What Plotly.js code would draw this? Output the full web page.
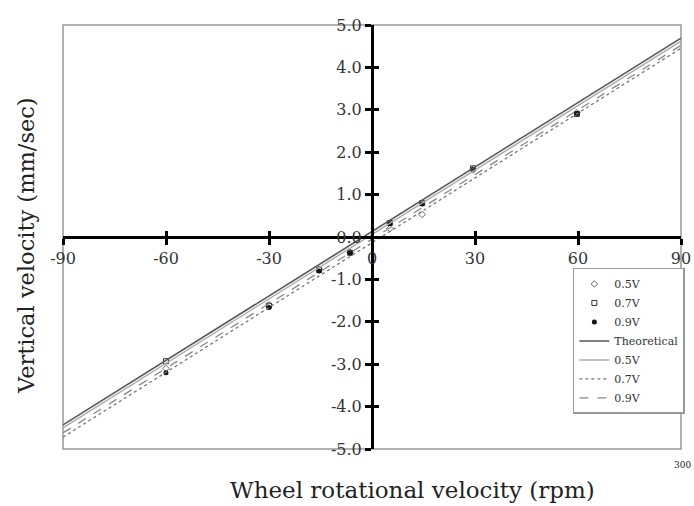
<!DOCTYPE html>
<html>
<head>
<meta charset="utf-8">
<script src="https://cdn.plot.ly/plotly-3.0.1.min.js"></script>
<style>html,body{margin:0;padding:0;background:#fff}#chart{width:694px;height:506px}</style>
</head>
<body>
<div id="chart"></div>
<script>
// Measured points (rpm vs mm/sec)
const rpm = [-60, -30, -15.4, -6.4, 5.2, 14.6, 29.4, 59.7];
const v05 = [-3.10, -1.60, -0.76, -0.36, 0.20, 0.53, 1.58, 2.93];
const v07 = [-2.93, -1.62, -0.78, -0.37, 0.33, 0.80, 1.62, 2.90];
const v09 = [-3.20, -1.66, -0.80, -0.38, 0.32, 0.78, 1.60, 2.91];

// Fitted / theoretical lines (end points at -90 and 90 rpm)
const lineX = [-90, 90];
const theoLine = [-4.43, 4.69];
const fit05 = [-4.50, 4.62];
const fit07 = [-4.72, 4.45];
const fit09 = [-4.62, 4.52];

const xTicks = [-90, -60, -30, 0, 30, 60, 90];
const xTickText = ['-90', '-60', '-30', '0', '30', '60', '90'];
const yTicks = [-5, -4, -3, -2, -1, 0, 1, 2, 3, 4, 5];
const yTickText = ['-5.0', '-4.0', '-3.0', '-2.0', '-1.0', '0.0', '1.0', '2.0', '3.0', '4.0', '5.0'];

const serif = 'DejaVu Serif, Liberation Serif, serif';
const mk = '#333';

const traces = [
  {x: rpm, y: v05, name: '0.5V', mode: 'markers', type: 'scatter',
   marker: {symbol: 'diamond-open', size: 5, color: '#666', line: {width: 1, color: '#666'}}},
  {x: rpm, y: v07, name: '0.7V', mode: 'markers', type: 'scatter',
   marker: {symbol: 'square-open', size: 5, color: mk, line: {width: 1, color: mk}}},
  {x: rpm, y: v09, name: '0.9V', mode: 'markers', type: 'scatter',
   marker: {symbol: 'circle', size: 5, color: '#111'}},
  {x: lineX, y: theoLine, name: 'Theoretical', mode: 'lines', type: 'scatter',
   line: {color: '#555', width: 1.6}},
  {x: lineX, y: fit05, name: '0.5V', mode: 'lines', type: 'scatter',
   line: {color: '#aaa', width: 1.4}},
  {x: lineX, y: fit07, name: '0.7V', mode: 'lines', type: 'scatter',
   line: {color: '#777', width: 1.3, dash: 'dot'}},
  {x: lineX, y: fit09, name: '0.9V', mode: 'lines', type: 'scatter',
   line: {color: '#888', width: 1.3, dash: 'dash'}},
  {x: [], y: [], xaxis: 'x2', yaxis: 'y2', showlegend: false, hoverinfo: 'skip', mode: 'markers', type: 'scatter'}
];

const axCommon = {showgrid: false, zeroline: false, fixedrange: true};

const layout = {
  width: 694, height: 506,
  margin: {l: 63, r: 13, t: 25, b: 57, autoexpand: false},
  paper_bgcolor: '#fff', plot_bgcolor: '#fff',
  font: {family: serif, color: '#222'},
  showlegend: true,
  legend: {x: 0.825, y: 0.427, xanchor: 'left', yanchor: 'top',
           bgcolor: '#fff', bordercolor: '#999', borderwidth: 1.5,
           font: {family: serif, size: 11, color: '#333'}, tracegroupgap: 0},
  xaxis: Object.assign({}, axCommon, {
    range: [-90, 90], anchor: 'free', position: 0.5,
    showline: true, linecolor: '#000', linewidth: 3,
    ticks: 'outside', ticklen: 6, tickwidth: 3, tickcolor: '#000',
    tickvals: xTicks, ticktext: xTickText,
    tickfont: {family: serif, size: 16, color: '#333'}
  }),
  yaxis: Object.assign({}, axCommon, {
    range: [-5, 5], anchor: 'free', position: 0.5,
    showline: true, linecolor: '#000', linewidth: 3,
    ticks: 'outside', ticklen: 6, tickwidth: 3, tickcolor: '#000',
    tickvals: yTicks, ticktext: yTickText,
    tickfont: {family: serif, size: 16, color: '#333'}
  }),
  xaxis2: Object.assign({}, axCommon, {
    range: [-90, 90], overlaying: 'x', anchor: 'free', position: 0.5,
    showline: false, ticks: 'inside', ticklen: 6, tickwidth: 3, tickcolor: '#000',
    tickvals: xTicks, showticklabels: false
  }),
  yaxis2: Object.assign({}, axCommon, {
    range: [-5, 5], overlaying: 'y', anchor: 'free', position: 0.5,
    showline: false, ticks: 'inside', ticklen: 6, tickwidth: 3, tickcolor: '#000',
    tickvals: yTicks, showticklabels: false
  }),
  shapes: [
    {type: 'rect', xref: 'paper', yref: 'paper', x0: 0, x1: 1, y0: 0, y1: 1,
     line: {color: '#999', width: 1.5}, layer: 'below'}
  ],
  annotations: [
    {text: 'Wheel rotational velocity (rpm)', xref: 'paper', yref: 'paper',
     x: 0.566, y: -0.097, xanchor: 'center', yanchor: 'middle', showarrow: false,
     font: {family: serif, size: 23, color: '#222'}},
    {text: 'Vertical velocity (mm/sec)', xref: 'paper', yref: 'paper',
     x: -0.06, y: 0.481, xanchor: 'center', yanchor: 'middle', showarrow: false,
     textangle: -90, font: {family: serif, size: 22.5, color: '#222'}},
    {text: '300', xref: 'paper', yref: 'paper', x: 1.003, y: -0.038,
     xanchor: 'center', yanchor: 'middle', showarrow: false,
     font: {family: serif, size: 9, color: '#222'}}
  ]
};

Plotly.newPlot('chart', traces, layout, {displayModeBar: false, staticPlot: true});
</script>
</body>
</html>
